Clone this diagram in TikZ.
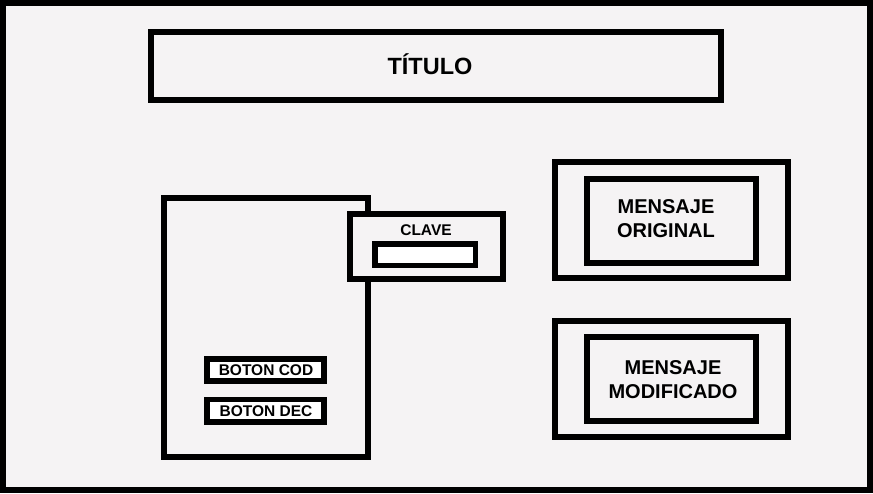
\documentclass[tikz,border=0pt]{standalone}
\usepackage{fontspec}
\setmainfont{Liberation Sans}
\definecolor{bgc}{RGB}{245,243,244}
\begin{document}
\begin{tikzpicture}[x=1pt,y=-1pt,
  frame/.style={draw=black,line width=6pt},
  panel/.style={draw=black,line width=6pt,fill=bgc},
  whitebox/.style={draw=black,line width=5.5pt,fill=white},
  lbl/.style={font=\bfseries,text=black,align=center,inner sep=0pt}]
\fill[bgc] (0,0) rectangle (873,493);
\useasboundingbox (0,0) rectangle (873,493);
\draw[frame] (3,3) rectangle (870,490);
% title
\draw[frame] (151,32) rectangle (721,99.5);
\node[lbl,font=\fontsize{23.5}{26}\selectfont\bfseries] (title) at (430,64) {TÍTULO};
% left panel
\draw[panel] (164,198) rectangle (368,457);
\draw[whitebox] (207,359) rectangle (324,381);
\node[lbl,font=\fontsize{15.5}{17}\selectfont\bfseries] (cod) at (266,370) {BOTON COD};
\draw[whitebox] (207,399.5) rectangle (324,422);
\node[lbl,font=\fontsize{15.5}{17}\selectfont\bfseries] (dec) at (266,411) {BOTON DEC};
% clave
\draw[panel] (350,214) rectangle (503,279);
\node[lbl,font=\fontsize{15.5}{17}\selectfont\bfseries] (clave) at (426,230) {CLAVE};
\draw[whitebox] (375,244) rectangle (475.5,265.5);
% mensaje original
\draw[frame] (554.5,162) rectangle (788,278);
\draw[frame] (587,179) rectangle (756,263);
\node[lbl,font=\fontsize{20}{24}\selectfont\bfseries] (orig) at (666,218.5) {MENSAJE\\ORIGINAL};
% mensaje modificado
\draw[frame] (554.5,321) rectangle (788,437);
\draw[frame] (587,337) rectangle (756,420.5);
\node[lbl,font=\fontsize{20}{24}\selectfont\bfseries] (mod) at (673,379.5) {MENSAJE\\MODIFICADO};
\end{tikzpicture}
\end{document}
